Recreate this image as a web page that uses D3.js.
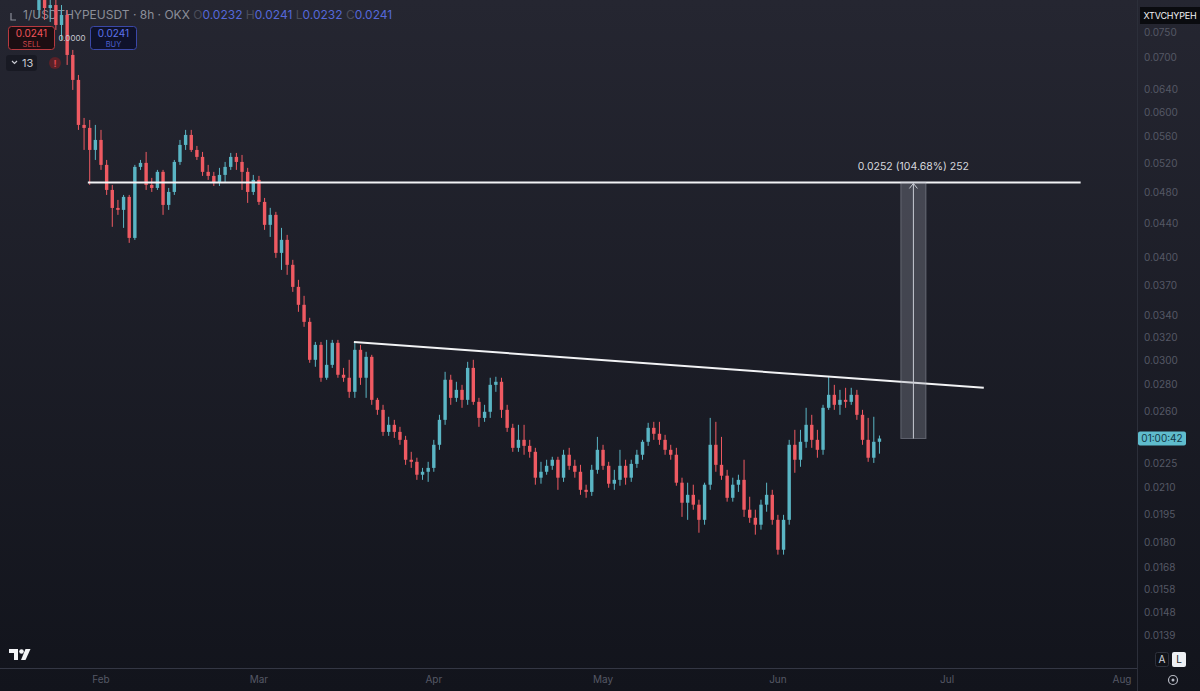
<!DOCTYPE html>
<html>
<head>
<meta charset="utf-8">
<script src="https://cdn.jsdelivr.net/npm/d3@7"></script>
<style>
  html, body { margin: 0; padding: 0; background: #14161f; overflow: hidden; }
  svg { display: block; font-family: Inter, "Noto Sans", sans-serif; }
</style>
</head>
<body>
<div id="chart"></div>
<script>
// daily candles, first one on 21 Jan 2025
const firstDay = "2025-01-21";

const opens = [
  0.07983, 0.08209, 0.08028, 0.08095, 0.07656, 0.07873, 0.07041, 0.06566, 0.05790, 0.05742,
  0.05399, 0.05552, 0.05178, 0.04828, 0.04591, 0.04566, 0.04735, 0.04222, 0.05149, 0.05207,
  0.04896, 0.04855, 0.05078, 0.04630, 0.04801, 0.05221, 0.05475, 0.05630, 0.05399, 0.05295,
  0.05078, 0.05021, 0.04924, 0.05035, 0.05149, 0.05295, 0.05221, 0.05078, 0.04801, 0.04965,
  0.04669, 0.04379, 0.04503, 0.04049, 0.04199, 0.03916, 0.03682, 0.03502, 0.03339, 0.03003,
  0.03131, 0.02856, 0.02961, 0.03149, 0.02880, 0.02856, 0.02746, 0.03088, 0.02856, 0.03028,
  0.02685, 0.02611, 0.02455, 0.02504, 0.02455, 0.02401, 0.02271, 0.02258, 0.02178, 0.02196,
  0.02220, 0.02368, 0.02539, 0.02840, 0.02700, 0.02761, 0.02685, 0.02936, 0.02670, 0.02553,
  0.02597, 0.02800, 0.02824, 0.02611, 0.02483, 0.02348, 0.02401, 0.02361, 0.02322, 0.02160,
  0.02196, 0.02233, 0.02271, 0.02160, 0.02303, 0.02233, 0.02196, 0.02088, 0.02076, 0.02208,
  0.02335, 0.02233, 0.02124, 0.02147, 0.02233, 0.02160, 0.02245, 0.02303, 0.02388, 0.02483,
  0.02442, 0.02401, 0.02335, 0.02303, 0.02130, 0.02014, 0.02059, 0.02003, 0.01920, 0.02118,
  0.02368, 0.02239, 0.02172, 0.02042, 0.02118, 0.02147, 0.01975, 0.01931, 0.01894, 0.02003,
  0.02059, 0.01920, 0.01766, 0.01920, 0.02368, 0.02271, 0.02388, 0.02504, 0.02401, 0.02335,
  0.02626, 0.02723, 0.02648, 0.02685, 0.02670, 0.02723, 0.02575, 0.02401, 0.02284, 0.02388
];
const highs = [
  0.08443, 0.08443, 0.08325, 0.08325, 0.08095, 0.07983, 0.07140, 0.06658, 0.05904, 0.05871,
  0.05790, 0.05710, 0.05250, 0.04896, 0.04695, 0.04761, 0.04761, 0.05178, 0.05250, 0.05369,
  0.04993, 0.05106, 0.05106, 0.04855, 0.05250, 0.05552, 0.05710, 0.05710, 0.05460, 0.05369,
  0.05178, 0.05078, 0.05135, 0.05221, 0.05354, 0.05354, 0.05324, 0.05135, 0.05035, 0.05021,
  0.04721, 0.04592, 0.04541, 0.04342, 0.04258, 0.03971, 0.03755, 0.03591, 0.03377, 0.03157,
  0.03157, 0.03175, 0.03175, 0.03175, 0.02936, 0.03003, 0.03157, 0.03131, 0.03071, 0.03045,
  0.02700, 0.02648, 0.02561, 0.02539, 0.02490, 0.02428, 0.02322, 0.02284, 0.02220, 0.02258,
  0.02401, 0.02575, 0.02904, 0.02880, 0.02824, 0.02800, 0.02986, 0.03003, 0.02700, 0.02648,
  0.02856, 0.02864, 0.02856, 0.02648, 0.02511, 0.02504, 0.02504, 0.02401, 0.02348, 0.02258,
  0.02271, 0.02290, 0.02290, 0.02335, 0.02348, 0.02271, 0.02239, 0.02118, 0.02239, 0.02421,
  0.02368, 0.02258, 0.02208, 0.02335, 0.02271, 0.02271, 0.02335, 0.02401, 0.02518, 0.02525,
  0.02525, 0.02435, 0.02368, 0.02348, 0.02160, 0.02130, 0.02118, 0.02031, 0.02130, 0.02553,
  0.02525, 0.02421, 0.02208, 0.02160, 0.02178, 0.02271, 0.02048, 0.01975, 0.02031, 0.02130,
  0.02088, 0.01947, 0.01947, 0.02401, 0.02469, 0.02469, 0.02626, 0.02575, 0.02469, 0.02648,
  0.02864, 0.02800, 0.02761, 0.02777, 0.02777, 0.02761, 0.02611, 0.02553, 0.02561, 0.02430
];
const lows = [
  0.07807, 0.07764, 0.07721, 0.07550, 0.07342, 0.06847, 0.06385, 0.05710, 0.05399, 0.04896,
  0.05250, 0.05106, 0.04761, 0.04355, 0.04503, 0.04342, 0.04164, 0.04199, 0.05106, 0.04828,
  0.04801, 0.04828, 0.04503, 0.04566, 0.04761, 0.05178, 0.05399, 0.05369, 0.05250, 0.05021,
  0.04965, 0.04882, 0.04882, 0.04937, 0.05106, 0.05106, 0.04828, 0.04656, 0.04761, 0.04630,
  0.04318, 0.04234, 0.03993, 0.03861, 0.03808, 0.03631, 0.03434, 0.03293, 0.02978, 0.02945,
  0.02824, 0.02840, 0.02936, 0.02856, 0.02824, 0.02700, 0.02700, 0.02800, 0.02700, 0.02648,
  0.02575, 0.02428, 0.02428, 0.02414, 0.02368, 0.02239, 0.02220, 0.02147, 0.02147, 0.02135,
  0.02196, 0.02335, 0.02504, 0.02648, 0.02670, 0.02626, 0.02648, 0.02648, 0.02490, 0.02525,
  0.02553, 0.02746, 0.02553, 0.02455, 0.02322, 0.02322, 0.02303, 0.02284, 0.02118, 0.02124,
  0.02178, 0.02208, 0.02088, 0.02135, 0.02208, 0.02160, 0.02059, 0.02042, 0.02053, 0.02184,
  0.02208, 0.02100, 0.02088, 0.02112, 0.02118, 0.02135, 0.02220, 0.02271, 0.02361, 0.02401,
  0.02368, 0.02303, 0.02271, 0.02112, 0.01936, 0.01920, 0.01975, 0.01852, 0.01894, 0.02088,
  0.02196, 0.02147, 0.02020, 0.02020, 0.02076, 0.01936, 0.01904, 0.01842, 0.01868, 0.01964,
  0.01894, 0.01742, 0.01742, 0.01894, 0.02190, 0.02227, 0.02348, 0.02348, 0.02284, 0.02303,
  0.02611, 0.02611, 0.02575, 0.02626, 0.02648, 0.02539, 0.02368, 0.02258, 0.02251, 0.02310
];
const closes = [
  0.08209, 0.08028, 0.08095, 0.07656, 0.07873, 0.07041, 0.06566, 0.05790, 0.05742, 0.05399,
  0.05552, 0.05178, 0.04828, 0.04591, 0.04566, 0.04735, 0.04222, 0.05149, 0.05207, 0.04896,
  0.04855, 0.05078, 0.04630, 0.04801, 0.05221, 0.05475, 0.05630, 0.05399, 0.05295, 0.05078,
  0.05021, 0.04924, 0.05035, 0.05149, 0.05295, 0.05221, 0.05078, 0.04801, 0.04965, 0.04669,
  0.04379, 0.04503, 0.04049, 0.04199, 0.03916, 0.03682, 0.03502, 0.03339, 0.03003, 0.03131,
  0.02856, 0.02961, 0.03149, 0.02880, 0.02856, 0.02746, 0.03088, 0.02856, 0.03028, 0.02685,
  0.02611, 0.02455, 0.02504, 0.02455, 0.02401, 0.02271, 0.02258, 0.02178, 0.02196, 0.02220,
  0.02368, 0.02539, 0.02840, 0.02700, 0.02761, 0.02685, 0.02936, 0.02670, 0.02553, 0.02597,
  0.02800, 0.02824, 0.02611, 0.02483, 0.02348, 0.02401, 0.02361, 0.02322, 0.02160, 0.02196,
  0.02233, 0.02271, 0.02160, 0.02303, 0.02233, 0.02196, 0.02088, 0.02076, 0.02208, 0.02335,
  0.02233, 0.02124, 0.02147, 0.02233, 0.02160, 0.02245, 0.02303, 0.02388, 0.02483, 0.02442,
  0.02401, 0.02335, 0.02303, 0.02130, 0.02014, 0.02059, 0.02003, 0.01920, 0.02118, 0.02368,
  0.02239, 0.02172, 0.02042, 0.02118, 0.02147, 0.01975, 0.01931, 0.01894, 0.02003, 0.02059,
  0.01920, 0.01766, 0.01920, 0.02368, 0.02271, 0.02388, 0.02504, 0.02401, 0.02335, 0.02626,
  0.02723, 0.02648, 0.02685, 0.02670, 0.02723, 0.02575, 0.02401, 0.02284, 0.02388, 0.02410
];

const priceTicks = [0.0750, 0.0700, 0.0640, 0.0600, 0.0560, 0.0520, 0.0480, 0.0440, 0.0400, 0.0370,
  0.0340, 0.0320, 0.0300, 0.0280, 0.0260, 0.0225, 0.0210, 0.0195, 0.0180, 0.0168, 0.0158, 0.0148, 0.0139];
const monthTicks = ["2025-02-01", "2025-03-01", "2025-04-01", "2025-05-01", "2025-06-01", "2025-07-01", "2025-08-01"];
const monthLabels = ["Feb", "Mar", "Apr", "May", "Jun", "Jul", "Aug"];

// drawings on the chart
const resistance = { price: 0.0493, from: "2025-01-29T16:00:00Z", to: "2025-07-24T16:00:00Z" };
const trendTimes = ["2025-03-17T20:00:00Z", "2025-07-07T12:00:00Z"];
const trendPrices = [0.03157, 0.02777];
const measure = { from: "2025-06-22T19:00:00Z", to: "2025-06-27T06:00:00Z", low: 0.0241, high: 0.0493,
  label: "0.0252 (104.68%) 252" };
const lastPrice = 0.0241;
const countdown = "01:00:42";

const W = 1200, H = 691;
const plotW = 1137, plotH = 668;
const red = "#ef5a62", teal = "#5ab5c4";

const svg = d3.select("#chart").append("svg")
  .attr("width", W)
  .attr("height", H);

const defs = svg.append("defs");
const grad = defs.append("linearGradient").attr("id", "bg")
  .attr("x1", 0).attr("y1", 0).attr("x2", 0).attr("y2", 1);
grad.append("stop").attr("offset", "0%").attr("stop-color", "#252631");
grad.append("stop").attr("offset", "100%").attr("stop-color", "#12141c");
defs.append("clipPath").attr("id", "plotClip")
  .append("rect").attr("width", plotW).attr("height", plotH);

svg.append("rect").attr("width", W).attr("height", H).attr("fill", "url(#bg)");

const x = d3.scaleUtc()
  .domain([new Date("2025-02-01T00:00:00Z"), new Date("2025-08-01T00:00:00Z")])
  .range([101, 1122]);
const y = d3.scaleLog()
  .domain([0.0139, 0.076])
  .range([635.4, 27.6]);

const start = new Date(firstDay + "T00:00:00Z");
const candles = closes.map((c, i) => ({
  date: d3.utcDay.offset(start, i),
  o: opens[i], h: highs[i], l: lows[i], c: c
}));

// header legend (under the candles)
const head = svg.append("g").attr("font-size", 12);
head.append("path").attr("d", "M11,13 v7 h5").attr("stroke", "#8a8d98").attr("fill", "none").attr("stroke-width", 1.2);
const t = head.append("text").attr("x", 23).attr("y", 19);
t.append("tspan").attr("fill", "#8b8e99").text("1/USDTHYPEUSDT · 8h · OKX ");
[["O", "0.0232"], ["H", "0.0241"], ["L", "0.0232"], ["C", "0.0241"]].forEach(p => {
  t.append("tspan").attr("fill", "#4a4d5a").text(" " + p[0]);
  t.append("tspan").attr("fill", "#5568d8").text(p[1]);
});

// candles
const plot = svg.append("g").attr("clip-path", "url(#plotClip)");
const bw = 3.4;
const cg = plot.selectAll(".candle").data(candles).enter().append("g").attr("class", "candle");
cg.append("line")
  .attr("x1", d => x(d.date)).attr("x2", d => x(d.date))
  .attr("y1", d => y(d.h)).attr("y2", d => y(d.l))
  .attr("stroke", d => d.c >= d.o ? teal : red)
  .attr("stroke-width", 1);
cg.append("rect")
  .attr("x", d => x(d.date) - bw / 2)
  .attr("width", bw)
  .attr("y", d => y(Math.max(d.o, d.c)))
  .attr("height", d => Math.max(1, Math.abs(y(d.o) - y(d.c))))
  .attr("fill", d => d.c >= d.o ? teal : red);

// horizontal resistance
plot.append("line")
  .attr("x1", x(new Date(resistance.from))).attr("x2", x(new Date(resistance.to)))
  .attr("y1", y(resistance.price)).attr("y2", y(resistance.price))
  .attr("stroke", "#f2f3f5").attr("stroke-width", 2);

// descending trendline
plot.append("line")
  .attr("x1", x(new Date(trendTimes[0]))).attr("y1", y(trendPrices[0]))
  .attr("x2", x(new Date(trendTimes[1]))).attr("y2", y(trendPrices[1]))
  .attr("stroke", "#f2f3f5").attr("stroke-width", 2);

// price range measurement
const mx0 = x(new Date(measure.from)), mx1 = x(new Date(measure.to));
const my0 = y(measure.high), my1 = y(measure.low);
const mxc = (mx0 + mx1) / 2;
plot.append("rect")
  .attr("x", mx0).attr("y", my0).attr("width", mx1 - mx0).attr("height", my1 - my0)
  .attr("fill", "rgba(150,153,165,0.32)")
  .attr("stroke", "rgba(190,193,205,0.35)").attr("stroke-width", 1);
plot.append("line")
  .attr("x1", mxc).attr("x2", mxc).attr("y1", my1).attr("y2", my0 + 1)
  .attr("stroke", "#c9ccd5").attr("stroke-width", 1);
plot.append("path")
  .attr("d", `M${mxc - 4},${my0 + 6} L${mxc},${my0 + 1} L${mxc + 4},${my0 + 6}`)
  .attr("fill", "none").attr("stroke", "#c9ccd5").attr("stroke-width", 1);
plot.append("text")
  .attr("x", mxc).attr("y", my0 - 12)
  .attr("text-anchor", "middle").attr("font-size", 10.5).attr("fill", "#d6d8de")
  .text(measure.label);

// separators
svg.append("line").attr("x1", plotW + 0.5).attr("x2", plotW + 0.5).attr("y1", 0).attr("y2", H)
  .attr("stroke", "#2c2f3a");
svg.append("line").attr("x1", 0).attr("x2", plotW).attr("y1", plotH + 0.5).attr("y2", plotH + 0.5)
  .attr("stroke", "#343744");

// price axis
svg.append("g").selectAll("text").data(priceTicks).enter().append("text")
  .attr("x", 1144).attr("y", d => y(d))
  .attr("dy", "0.35em").attr("font-size", 10).attr("fill", "#555865")
  .text(d => d.toFixed(4));

// time axis
svg.append("g").selectAll("text").data(monthTicks).enter().append("text")
  .attr("x", d => x(new Date(d + "T00:00:00Z"))).attr("y", 683)
  .attr("text-anchor", "middle").attr("font-size", 10).attr("fill", "#555865")
  .text((d, i) => monthLabels[i]);

// symbol badge on the price axis
svg.append("rect").attr("x", 1140).attr("y", 7).attr("width", 60).attr("height", 17).attr("fill", "#0a0b0f");
svg.append("text").attr("x", 1170).attr("y", 19).attr("text-anchor", "middle")
  .attr("font-size", 9).attr("letter-spacing", "-0.2").attr("fill", "#f0f1f4").text("XTVCHYPEH");

// countdown label at the last price
const ly = y(lastPrice);
svg.append("rect").attr("x", 1138).attr("y", ly - 7).attr("width", 48).attr("height", 14).attr("rx", 2)
  .attr("fill", "#5fbccd");
svg.append("text").attr("x", 1162).attr("y", ly).attr("dy", "0.36em").attr("text-anchor", "middle")
  .attr("font-size", 10).attr("fill", "#133847").text(countdown);

// sell / buy boxes
const ui = svg.append("g");
ui.append("rect").attr("x", 8.5).attr("y", 26.5).attr("width", 46).attr("height", 23).attr("rx", 3)
  .attr("fill", "rgba(28,12,16,0.92)").attr("stroke", "#b8393f");
ui.append("text").attr("x", 31.5).attr("y", 37).attr("text-anchor", "middle").attr("font-size", 10)
  .attr("fill", "#f0545a").text("0.0241");
ui.append("text").attr("x", 31.5).attr("y", 47).attr("text-anchor", "middle").attr("font-size", 7.5)
  .attr("fill", "#d0464c").text("SELL");
ui.append("text").attr("x", 72).attr("y", 41).attr("text-anchor", "middle").attr("font-size", 8)
  .attr("fill", "#c5c7cf").text("0.0000");
ui.append("rect").attr("x", 90.5).attr("y", 26.5).attr("width", 46).attr("height", 23).attr("rx", 3)
  .attr("fill", "rgba(14,16,42,0.92)").attr("stroke", "#3b48a8");
ui.append("text").attr("x", 113.5).attr("y", 37).attr("text-anchor", "middle").attr("font-size", 10)
  .attr("fill", "#5d72ea").text("0.0241");
ui.append("text").attr("x", 113.5).attr("y", 47).attr("text-anchor", "middle").attr("font-size", 7.5)
  .attr("fill", "#4d60d0").text("BUY");

// collapsed indicators + warning
ui.append("rect").attr("x", 6).attr("y", 55).attr("width", 31).attr("height", 16).attr("rx", 3)
  .attr("fill", "rgba(20,22,30,0.7)");
ui.append("path").attr("d", "M12,61 l2.5,2.5 l2.5,-2.5").attr("fill", "none")
  .attr("stroke", "#c8cad2").attr("stroke-width", 1.2);
ui.append("text").attr("x", 22).attr("y", 67).attr("font-size", 11).attr("fill", "#c8cad2").text("13");
ui.append("circle").attr("cx", 55).attr("cy", 63).attr("r", 6).attr("fill", "#5a2128");
ui.append("text").attr("x", 55).attr("y", 66.5).attr("text-anchor", "middle").attr("font-size", 9)
  .attr("font-weight", "bold").attr("fill", "#e0454d").text("!");

// TradingView mark
const logo = svg.append("g").attr("fill", "#f4f5f7");
logo.append("path").attr("d", "M9,649 h9 v11 h-4 v-7 h-5 z");
logo.append("circle").attr("cx", 21.5).attr("cy", 651.5).attr("r", 2.3);
logo.append("path").attr("d", "M25.5,649 h5 l-5,11 h-4.5 z");

// A / L buttons and settings icon
svg.append("rect").attr("x", 1155.5).attr("y", 652.5).attr("width", 13).attr("height", 14).attr("rx", 2)
  .attr("fill", "#101218").attr("stroke", "#2f323d");
svg.append("text").attr("x", 1162).attr("y", 663).attr("text-anchor", "middle").attr("font-size", 10)
  .attr("fill", "#d2d4dc").text("A");
svg.append("rect").attr("x", 1172).attr("y", 652).attr("width", 14).attr("height", 15).attr("rx", 2)
  .attr("fill", "#eef0f4");
svg.append("text").attr("x", 1179).attr("y", 663).attr("text-anchor", "middle").attr("font-size", 10)
  .attr("fill", "#1a1c24").text("L");
svg.append("circle").attr("cx", 1173).attr("cy", 680).attr("r", 4.5).attr("fill", "none")
  .attr("stroke", "#b5b8c2").attr("stroke-width", 1.2);
svg.append("circle").attr("cx", 1173).attr("cy", 680).attr("r", 1.5).attr("fill", "#b5b8c2");
</script>
</body>
</html>
